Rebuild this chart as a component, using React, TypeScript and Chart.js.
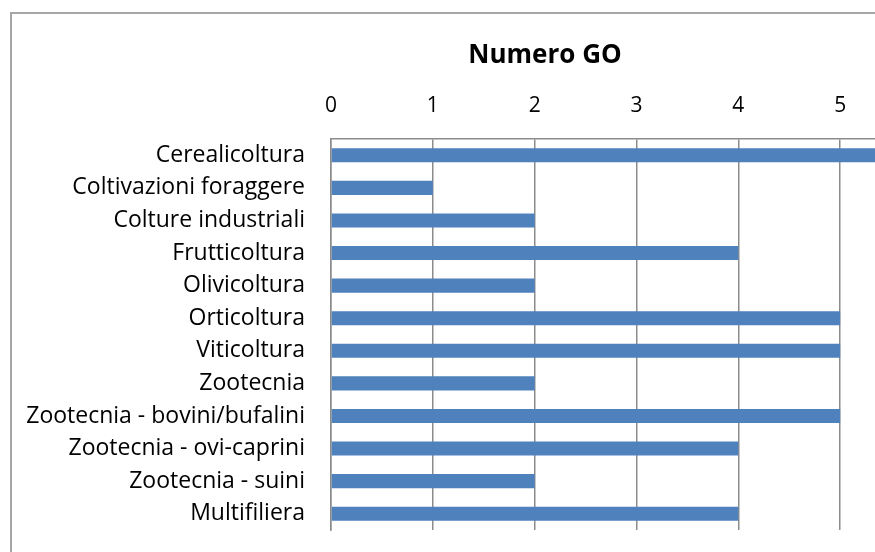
import React, { useEffect, useRef } from "react";
import { Chart, registerables } from "chart.js";

Chart.register(...registerables);

const categories = [
  "Cerealicoltura",
  "Coltivazioni foraggere",
  "Colture industriali",
  "Frutticoltura",
  "Olivicoltura",
  "Orticoltura",
  "Viticoltura",
  "Zootecnia",
  "Zootecnia - bovini/bufalini",
  "Zootecnia - ovi-caprini",
  "Zootecnia - suini",
  "Multifiliera",
];
const values = [6, 1, 2, 4, 2, 5, 5, 2, 5, 4, 2, 4];
const chartTitle = "Numero GO";
const axisMin = 0;
const axisMax = 6;

const FONT = "'Open Sans', 'Noto Sans', sans-serif";

export default function App() {
  const ref = useRef<HTMLCanvasElement | null>(null);
  useEffect(() => {
    if (!ref.current) return;
    const framePlugin = {
      id: "frame",
      beforeDraw(chart: any) {
        const ctx = chart.ctx;
        ctx.save();
        ctx.fillStyle = "#ffffff";
        ctx.fillRect(0, 0, chart.width, chart.height);
        ctx.strokeStyle = "#a6a6a6";
        ctx.lineWidth = 2;
        ctx.beginPath();
        ctx.moveTo(11, chart.height + 10);
        ctx.lineTo(11, 13);
        ctx.lineTo(chart.width + 10, 13);
        ctx.stroke();
        ctx.restore();
      },
      afterDraw(chart: any) {
        const ctx = chart.ctx;
        ctx.save();
        ctx.fillStyle = "#000000";
        ctx.font = `bold 26px ${FONT}`;
        ctx.textAlign = "center";
        ctx.textBaseline = "alphabetic";
        ctx.fillText(chartTitle, 545, 63);
        ctx.restore();
      },
    };
    const chart = new Chart(ref.current, {
      type: "bar",
      data: {
        labels: categories,
        datasets: [
          {
            label: chartTitle,
            data: values,
            backgroundColor: "#4f81bd",
            borderWidth: 0,
            barPercentage: 0.43,
            categoryPercentage: 1,
          },
        ],
      },
      options: {
        indexAxis: "y",
        animation: false,
        responsive: false,
        maintainAspectRatio: false,
        layout: { padding: { top: 0, left: 0, right: 58, bottom: 22 } },
        plugins: {
          legend: { display: false },
          title: { display: false },
          tooltip: { enabled: false },
        },
        scales: {
          x: {
            position: "top",
            min: axisMin,
            max: axisMax,
            ticks: {
              stepSize: 1,
              color: "#000000",
              font: { family: FONT, size: 21 },
              padding: 20,
            },
            grid: {
              color: "#8c8c8c",
              lineWidth: 1.5,
              drawTicks: false,
            },
            border: { display: true, color: "#8c8c8c", width: 1.5 },
            afterFit(scale: any) {
              scale.height = 139;
              scale.paddingLeft = 0;
              scale.paddingRight = 0;
            },
          },
          y: {
            ticks: {
              color: "#000000",
              font: { family: FONT, size: 23 },
              padding: 26,
            },
            grid: { display: false, drawTicks: false },
            border: { display: true, color: "#8c8c8c", width: 1.5 },
            afterFit(scale: any) {
              scale.width = 331;
              scale.paddingTop = 0;
              scale.paddingBottom = 0;
            },
          },
        },
      },
      plugins: [framePlugin],
    });
    return () => chart.destroy();
  }, []);
  return (
    <div
      style={{
        position: "fixed",
        left: 0,
        top: 0,
        width: 875,
        height: 552,
        overflow: "hidden",
      }}
    >
      <canvas ref={ref} width={1000} height={552} style={{ display: "block" }} />
    </div>
  );
}
